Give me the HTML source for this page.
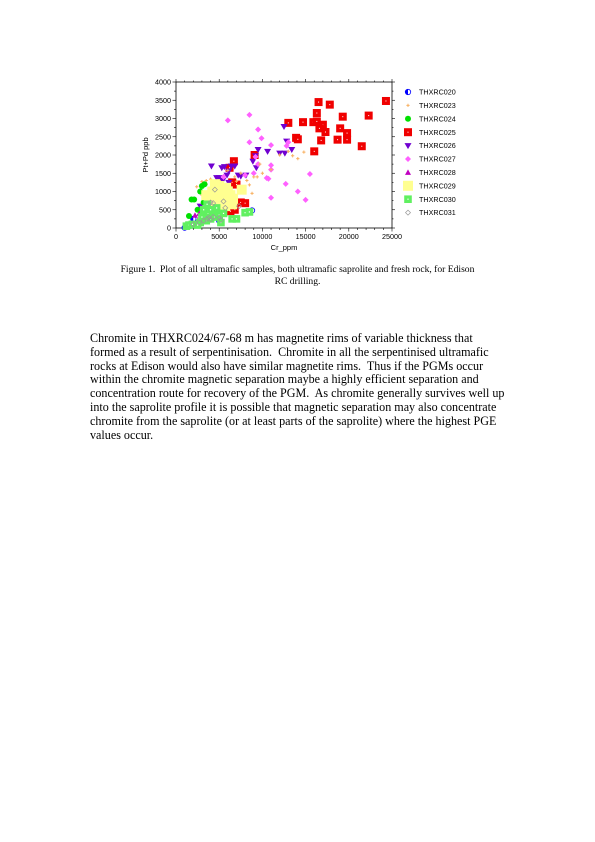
<!DOCTYPE html>
<html><head><meta charset="utf-8">
<style>
body{margin:0;background:#fff;width:595px;height:842px;position:relative;overflow:hidden;font-family:"Liberation Serif",serif;}
svg{position:absolute;left:0;top:0;}
.cap{position:absolute;left:80px;width:435px;top:264px;text-align:center;font-size:9.6px;line-height:12px;}
.para{position:absolute;left:90px;top:332px;width:440px;font-size:12.1px;line-height:13.8px;white-space:nowrap;}
</style></head><body>
<svg id="chart" width="595" height="300" font-family="Liberation Sans, sans-serif"></svg>
<div class="cap">Figure 1.&nbsp; Plot of all ultramafic samples, both ultramafic saprolite and fresh rock, for Edison<br>RC drilling.</div>
<div class="para">Chromite in THXRC024/67-68 m has magnetite rims of variable thickness that<br>formed as a result of serpentinisation.&nbsp; Chromite in all the serpentinised ultramafic<br>rocks at Edison would also have similar magnetite rims.&nbsp; Thus if the PGMs occur<br>within the chromite magnetic separation maybe a highly efficient separation and<br>concentration route for recovery of the PGM.&nbsp; As chromite generally survives well up<br>into the saprolite profile it is possible that magnetic separation may also concentrate<br>chromite from the saprolite (or at least parts of the saprolite) where the highest PGE<br>values occur.</div>
<script>
const xTicks=[0,5000,10000,15000,20000,25000];
const yTicks=[0,500,1000,1500,2000,2500,3000,3500,4000];
const seriesNames=["THXRC020","THXRC023","THXRC024","THXRC025","THXRC026","THXRC027","THXRC028","THXRC029","THXRC030","THXRC031"];
const s020=[[8800,480],[1000,10],[1500,50],[2000,250],[5000,200]];
const s023=[[2400,1130],[3000,1270],[3500,1300],[4000,1340],[6000,1580],[6800,1400],[7500,1500],[8200,1300],[9000,1400],[9400,1400],[10000,1500],[11000,1600],[12000,2000],[13500,1980],[14100,1900],[13000,2100],[14800,2080],[9700,1750],[8500,1180],[8800,950],[5000,1300],[3500,1200],[3000,900],[4500,1000],[7000,1280],[6000,1100]];
const s024=[[1800,780],[2100,780],[1500,330],[3000,1150],[3300,1200],[2800,1000],[3500,900],[3200,700],[4000,600],[2500,500],[3800,450]];
const s025=[[16500,3450],[17800,3380],[24300,3480],[16300,3150],[22300,3080],[19300,3050],[13000,2880],[14700,2900],[15900,2900],[16300,2920],[17000,2830],[16600,2730],[19000,2730],[17300,2630],[19800,2600],[18700,2420],[19800,2420],[16800,2400],[13900,2470],[14100,2430],[21500,2240],[16000,2100],[9100,2000],[6700,1830],[6200,1650],[6500,1250],[7000,1190],[7500,700],[8000,680],[6800,500],[6300,460],[5500,450]];
const s026=[[4100,1700],[5300,1650],[5600,1680],[6400,1700],[6800,1700],[6100,1560],[7200,1450],[7500,1420],[8100,1450],[5900,1450],[4700,1380],[5000,1380],[5400,1300],[9500,2150],[10600,2100],[12500,2780],[12800,2380],[13400,2150],[12000,2050],[12600,2050],[8900,1830],[9300,1650],[6100,1250],[4300,1000],[3500,900],[2800,600],[9200,1980]];
const s027=[[6000,2950],[8500,3100],[9500,2700],[9900,2460],[8500,2350],[11000,2270],[12800,2250],[13000,2350],[9200,1950],[9500,1750],[11000,1720],[11000,1600],[15500,1480],[10500,1370],[10700,1350],[9000,1500],[8000,1450],[12700,1210],[14100,1000],[11000,830],[15000,770],[5500,1400],[7600,1050],[6700,900],[4300,950],[3500,700],[4000,550],[5000,300],[2800,450]];
const s028=[[2200,350],[2700,400],[3200,500],[3800,700],[4300,900],[2500,200],[2900,250],[3500,600]];
const s029=[[3800,820],[4300,700],[5000,1150],[5500,900],[6000,800],[5500,700],[6500,650],[7600,1050],[4800,1050],[5200,600],[6000,1000],[4500,1200],[3500,900],[5000,850],[6300,900],[5800,1100],[4600,900],[5300,1000],[6600,800],[4200,1000],[5700,600]];
const s030=[[1200,50],[1500,80],[1900,100],[2800,150],[3500,200],[4000,250],[4200,350],[3700,400],[4500,300],[5200,150],[6500,250],[7000,250],[8000,420],[8500,440],[3200,500],[3600,650],[4000,500],[5000,350],[5500,400],[4700,550],[3000,300],[2500,80]];
const s031=[[4000,700],[4300,680],[4500,1050],[5500,730],[3600,250],[4000,230],[3200,200],[5000,280],[5200,220],[4300,300],[3800,280],[2700,150],[2000,100],[7300,600],[5700,550]];

const NS="http://www.w3.org/2000/svg";
const svg=document.getElementById('chart');
const X0=176,X1=392,Y0=228,Y1=82;
const sx=v=>X0+(v-0)/25000*(X1-X0);
const sy=v=>Y0-(v-0)/4000*(Y0-Y1);
function mk(tag,attrs,parent){const e=document.createElementNS(NS,tag);for(const k in attrs)e.setAttribute(k,attrs[k]);(parent||svg).appendChild(e);return e;}

const frame=mk('rect',{x:X0,y:Y1,width:X1-X0,height:Y0-Y1,fill:'none',stroke:'#000','stroke-width':0.8});


const xg=mk('g',{});


for(let v=0;v<=25000;v+=1000){const major=v%5000===0;mk('line',{x1:sx(v),x2:sx(v),y1:Y0,y2:Y0+(major?3.5:2),stroke:'#000','stroke-width':0.6},xg);mk('line',{x1:sx(v),x2:sx(v),y1:Y1,y2:Y1-(major?3:1.5),stroke:'#000','stroke-width':0.6},xg);}
xTicks.forEach(v=>{const t=mk('text',{x:sx(v),y:Y0+11,'font-size':7.2,'text-anchor':'middle'},xg);t.textContent=v;

});
const yg=mk('g',{});


for(let v=0;v<=4000;v+=250){const major=v%500===0;mk('line',{x1:X0,x2:X0-(major?3.5:2),y1:sy(v),y2:sy(v),stroke:'#000','stroke-width':0.6},yg);mk('line',{x1:X1,x2:X1+(major?3:1.5),y1:sy(v),y2:sy(v),stroke:'#000','stroke-width':0.6},yg);}
yTicks.forEach(v=>{const t=mk('text',{x:X0-5,y:sy(v)+2.5,'font-size':7.2,'text-anchor':'end'},yg);t.textContent=v;

});
const xt=mk('text',{x:(X0+X1)/2,y:Y0+22,'font-size':7.5,'text-anchor':'middle'});xt.textContent='Cr_ppm';


const yt=mk('text',{x:0,y:0,'font-size':7.5,'text-anchor':'middle',transform:`translate(148,${(Y0+Y1)/2}) rotate(-90)`});yt.textContent='Pt+Pd ppb';



function marker(type,x,y,g){
  switch(type){
    case 0: mk('circle',{cx:x,cy:y,r:2.7,fill:'#fff',stroke:'#00f','stroke-width':0.8},g);mk('path',{d:`M${x},${y-2.7} A2.7,2.7 0 0 0 ${x},${y+2.7} Z`,fill:'#00f'},g);break;
    case 1: mk('path',{d:`M${x-1.6},${y}H${x+1.6}M${x},${y-1.6}V${y+1.6}`,stroke:'#f8b060','stroke-width':1},g);break;
    case 2: mk('circle',{cx:x,cy:y,r:3,fill:'#00e000'},g);break;
    case 3: mk('rect',{x:x-4,y:y-4,width:8,height:8,fill:'#f00000'},g);mk('rect',{x:x-0.5,y:y-0.5,width:1,height:1,fill:'#fff'},g);break;
    case 4: mk('path',{d:`M${x-3.5},${y-2.5}H${x+3.5}L${x},${y+3.5}Z`,fill:'#7000d0'},g);break;
    case 5: mk('path',{d:`M${x},${y-3}L${x+3},${y}L${x},${y+3}L${x-3},${y}Z`,fill:'#ff60ff'},g);break;
    case 6: mk('path',{d:`M${x-3},${y+2.5}H${x+3}L${x},${y-3}Z`,fill:'#c000c0'},g);break;
    case 7: mk('rect',{x:x-5,y:y-5,width:10,height:10,fill:'#ffff90'},g);break;
    case 8: mk('rect',{x:x-3.8,y:y-3.8,width:7.6,height:7.6,fill:'#60f060'},g);mk('rect',{x:x-0.6,y:y-0.6,width:1.2,height:1.2,fill:'#fff'},g);break;
    case 9: mk('path',{d:`M${x},${y-2.5}L${x+2.5},${y}L${x},${y+2.5}L${x-2.5},${y}Z`,fill:'none',stroke:'#999','stroke-width':0.7},g);break;
  }
}
const all=[s020,s023,s024,s025,s026,s027,s028,s029,s030,s031];
const drawOrder=[0,3,4,5,1,2,6,7,8,9];
drawOrder.forEach(i=>{
  const g=mk('g',{});
  
  
  all[i].forEach(p=>marker(i,sx(p[0]),sy(p[1]),g));
});
seriesNames.forEach((n,i)=>{
  const g=mk('g',{});
  
  
  const y=92+i*13.4;
  marker(i,408,y,g);
  const t=mk('text',{x:419,y:y+2.6,'font-size':7.2},g);t.textContent=n;
});
</script>
</body></html>
